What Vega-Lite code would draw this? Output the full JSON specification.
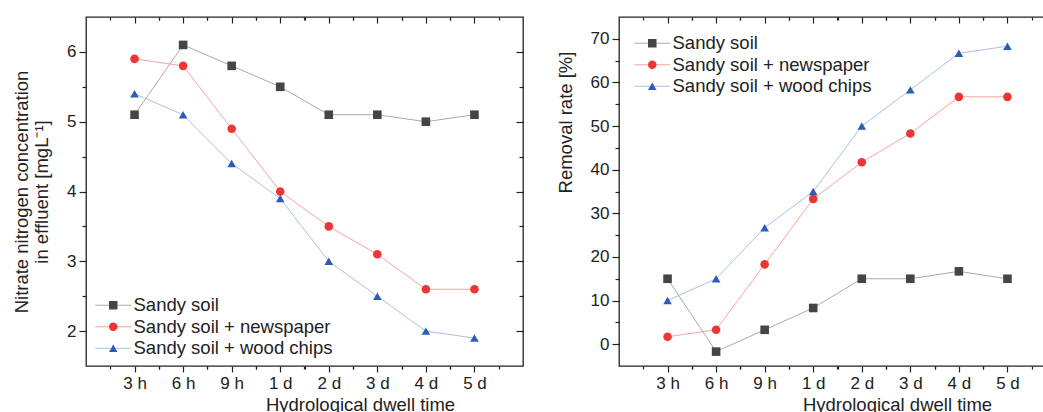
{
  "$schema": "https://vega.github.io/schema/vega-lite/v6.json",
  "padding": {"left": 11, "top": 15, "right": 0, "bottom": 0},
  "spacing": 30,
  "datasets": {
    "conc": [
      {"time": "3 h", "series": "Sandy soil", "value": 5.1},
      {"time": "6 h", "series": "Sandy soil", "value": 6.1},
      {"time": "9 h", "series": "Sandy soil", "value": 5.8},
      {"time": "1 d", "series": "Sandy soil", "value": 5.5},
      {"time": "2 d", "series": "Sandy soil", "value": 5.1},
      {"time": "3 d", "series": "Sandy soil", "value": 5.1},
      {"time": "4 d", "series": "Sandy soil", "value": 5.0},
      {"time": "5 d", "series": "Sandy soil", "value": 5.1},
      {"time": "3 h", "series": "Sandy soil + newspaper", "value": 5.9},
      {"time": "6 h", "series": "Sandy soil + newspaper", "value": 5.8},
      {"time": "9 h", "series": "Sandy soil + newspaper", "value": 4.9},
      {"time": "1 d", "series": "Sandy soil + newspaper", "value": 4.0},
      {"time": "2 d", "series": "Sandy soil + newspaper", "value": 3.5},
      {"time": "3 d", "series": "Sandy soil + newspaper", "value": 3.1},
      {"time": "4 d", "series": "Sandy soil + newspaper", "value": 2.6},
      {"time": "5 d", "series": "Sandy soil + newspaper", "value": 2.6},
      {"time": "3 h", "series": "Sandy soil + wood chips", "value": 5.4},
      {"time": "6 h", "series": "Sandy soil + wood chips", "value": 5.1},
      {"time": "9 h", "series": "Sandy soil + wood chips", "value": 4.4},
      {"time": "1 d", "series": "Sandy soil + wood chips", "value": 3.9},
      {"time": "2 d", "series": "Sandy soil + wood chips", "value": 3.0},
      {"time": "3 d", "series": "Sandy soil + wood chips", "value": 2.5},
      {"time": "4 d", "series": "Sandy soil + wood chips", "value": 2.0},
      {"time": "5 d", "series": "Sandy soil + wood chips", "value": 1.9}
    ],
    "removal": [
      {"time": "3 h", "series": "Sandy soil", "value": 15.0},
      {"time": "6 h", "series": "Sandy soil", "value": -1.7},
      {"time": "9 h", "series": "Sandy soil", "value": 3.3},
      {"time": "1 d", "series": "Sandy soil", "value": 8.3},
      {"time": "2 d", "series": "Sandy soil", "value": 15.0},
      {"time": "3 d", "series": "Sandy soil", "value": 15.0},
      {"time": "4 d", "series": "Sandy soil", "value": 16.7},
      {"time": "5 d", "series": "Sandy soil", "value": 15.0},
      {"time": "3 h", "series": "Sandy soil + newspaper", "value": 1.7},
      {"time": "6 h", "series": "Sandy soil + newspaper", "value": 3.3},
      {"time": "9 h", "series": "Sandy soil + newspaper", "value": 18.3},
      {"time": "1 d", "series": "Sandy soil + newspaper", "value": 33.3},
      {"time": "2 d", "series": "Sandy soil + newspaper", "value": 41.7},
      {"time": "3 d", "series": "Sandy soil + newspaper", "value": 48.3},
      {"time": "4 d", "series": "Sandy soil + newspaper", "value": 56.7},
      {"time": "5 d", "series": "Sandy soil + newspaper", "value": 56.7},
      {"time": "3 h", "series": "Sandy soil + wood chips", "value": 10.0},
      {"time": "6 h", "series": "Sandy soil + wood chips", "value": 15.0},
      {"time": "9 h", "series": "Sandy soil + wood chips", "value": 26.7},
      {"time": "1 d", "series": "Sandy soil + wood chips", "value": 35.0},
      {"time": "2 d", "series": "Sandy soil + wood chips", "value": 50.0},
      {"time": "3 d", "series": "Sandy soil + wood chips", "value": 58.3},
      {"time": "4 d", "series": "Sandy soil + wood chips", "value": 66.7},
      {"time": "5 d", "series": "Sandy soil + wood chips", "value": 68.3}
    ]
  },
  "hconcat": [
    {
      "width": 437,
      "height": 349,
      "data": {"name": "conc"},
      "resolve": {"axis": {"x": "independent", "y": "independent"}},
      "layer": [
        {
          "mark": {"type": "line", "strokeWidth": 1},
          "encoding": {
            "x": {"field": "time", "type": "ordinal",
              "scale": {"type": "point", "padding": 1, "domain": ["3 h", "6 h", "9 h", "1 d", "2 d", "3 d", "4 d", "5 d"]},
              "axis": {"orient": "bottom", "title": "Hydrological dwell time", "labelAngle": 0, "tickSize": 6, "labelPadding": 3, "titlePadding": 4, "titleX": 274}},
            "y": {"field": "value", "type": "quantitative",
              "scale": {"domain": [1.5, 6.5], "nice": false, "zero": false},
              "axis": {"orient": "left", "title": ["Nitrate nitrogen concentration", "in effluent [mgL⁻¹]"],
                "values": [2, 2.5, 3, 3.5, 4, 4.5, 5, 5.5, 6], "format": ".0f",
                "labelExpr": "datum.value % 1 === 0 ? datum.label : ''",
                "tickSize": {"condition": {"test": "datum.value % 1 !== 0", "value": 4}, "value": 7},
                "labelPadding": 3, "titlePadding": 15}},
            "stroke": {"field": "series", "type": "nominal",
              "scale": {"domain": ["Sandy soil", "Sandy soil + newspaper", "Sandy soil + wood chips"], "range": ["#aaaaaa", "#f4a3a3", "#a9c0e6"]},
              "legend": {"orient": "none", "legendX": 18, "legendY": 279, "title": null,
                "symbolType": "M-4,0L-0.6,0M0.6,0L4,0", "symbolSize": 81, "symbolStrokeWidth": 1,
                "labelOffset": 11, "labelFontSize": 18.5, "labelLimit": 400, "rowPadding": 2.5}}
          }
        },
        {
          "mark": {"type": "point", "filled": true, "size": 74, "opacity": 1},
          "encoding": {
            "x": {"field": "time", "type": "ordinal",
              "scale": {"type": "point", "padding": 1, "domain": ["3 h", "6 h", "9 h", "1 d", "2 d", "3 d", "4 d", "5 d"]},
              "axis": {"orient": "top", "labels": false, "title": null, "tickSize": -6}},
            "y": {"field": "value", "type": "quantitative",
              "axis": {"orient": "right", "labels": false, "title": null,
                "values": [2, 2.5, 3, 3.5, 4, 4.5, 5, 5.5, 6],
                "tickSize": {"condition": {"test": "datum.value % 1 !== 0", "value": -4}, "value": -7}}},
            "fill": {"field": "series", "type": "nominal",
              "scale": {"range": ["#454545", "#ee3535", "#2c5cb8"]},
              "legend": {"orient": "none", "legendX": 18, "legendY": 279, "title": null, "symbolSize": 72, "symbolStrokeWidth": 0,
                "labelOpacity": 0, "labelOffset": 11, "labelFontSize": 18.5, "labelLimit": 400, "rowPadding": 2.5}},
            "shape": {"field": "series", "type": "nominal",
              "scale": {"range": ["square", "circle", "triangle-up"]},
              "legend": {"orient": "none", "legendX": 18, "legendY": 279, "title": null, "symbolSize": 72, "symbolStrokeWidth": 0,
                "labelOpacity": 0, "labelOffset": 11, "labelFontSize": 18.5, "labelLimit": 400, "rowPadding": 2.5}}
          }
        },
        {
          "mark": {"type": "point", "opacity": 0},
          "encoding": {
            "x": {"field": "time", "type": "ordinal",
              "scale": {"type": "point", "padding": 1, "domain": ["3 h", "6 h", "9 h", "1 d", "2 d", "3 d", "4 d", "5 d"]},
              "axis": {"orient": "bottom", "labels": false, "title": null, "tickSize": 3, "tickOffset": 24.28}},
            "y": {"field": "value", "type": "quantitative", "axis": null}
          }
        },
        {
          "mark": {"type": "point", "opacity": 0},
          "encoding": {
            "x": {"field": "time", "type": "ordinal",
              "scale": {"type": "point", "padding": 1, "domain": ["3 h", "6 h", "9 h", "1 d", "2 d", "3 d", "4 d", "5 d"]},
              "axis": {"orient": "bottom", "labels": false, "title": null, "tickSize": 3, "tickOffset": -24.28}},
            "y": {"field": "value", "type": "quantitative", "axis": null}
          }
        },
        {
          "mark": {"type": "point", "opacity": 0},
          "encoding": {
            "x": {"field": "time", "type": "ordinal",
              "scale": {"type": "point", "padding": 1, "domain": ["3 h", "6 h", "9 h", "1 d", "2 d", "3 d", "4 d", "5 d"]},
              "axis": {"orient": "top", "labels": false, "title": null, "tickSize": -3, "tickOffset": 24.28}},
            "y": {"field": "value", "type": "quantitative", "axis": null}
          }
        },
        {
          "mark": {"type": "point", "opacity": 0},
          "encoding": {
            "x": {"field": "time", "type": "ordinal",
              "scale": {"type": "point", "padding": 1, "domain": ["3 h", "6 h", "9 h", "1 d", "2 d", "3 d", "4 d", "5 d"]},
              "axis": {"orient": "top", "labels": false, "title": null, "tickSize": -3, "tickOffset": -24.28}},
            "y": {"field": "value", "type": "quantitative", "axis": null}
          }
        }
      ]
    },
    {
      "width": 437,
      "height": 349,
      "data": {"name": "removal"},
      "resolve": {"axis": {"x": "independent", "y": "independent"}},
      "layer": [
        {
          "mark": {"type": "line", "strokeWidth": 1},
          "encoding": {
            "x": {"field": "time", "type": "ordinal",
              "scale": {"type": "point", "padding": 1, "domain": ["3 h", "6 h", "9 h", "1 d", "2 d", "3 d", "4 d", "5 d"]},
              "axis": {"orient": "bottom", "title": "Hydrological dwell time", "labelAngle": 0, "tickSize": 6, "labelPadding": 3, "titlePadding": 4, "titleX": 278}},
            "y": {"field": "value", "type": "quantitative",
              "scale": {"domain": [-5, 75], "nice": false, "zero": false},
              "axis": {"orient": "left", "title": "Removal rate [%]", "titleY": 105,
                "values": [0, 5, 10, 15, 20, 25, 30, 35, 40, 45, 50, 55, 60, 65, 70],
                "labelExpr": "datum.value % 10 === 0 ? datum.label : ''",
                "tickSize": {"condition": {"test": "datum.value % 10 !== 0", "value": 4}, "value": 7},
                "labelPadding": 3, "titlePadding": 15}},
            "stroke": {"field": "series", "type": "nominal",
              "scale": {"domain": ["Sandy soil", "Sandy soil + newspaper", "Sandy soil + wood chips"], "range": ["#aaaaaa", "#f4a3a3", "#a9c0e6"]},
              "legend": {"orient": "none", "legendX": 24, "legendY": 17, "title": null,
                "symbolType": "M-4,0L-0.6,0M0.6,0L4,0", "symbolSize": 81, "symbolStrokeWidth": 1,
                "labelOffset": 11, "labelFontSize": 18.5, "labelLimit": 400, "rowPadding": 2.5}}
          }
        },
        {
          "mark": {"type": "point", "filled": true, "size": 74, "opacity": 1},
          "encoding": {
            "x": {"field": "time", "type": "ordinal",
              "scale": {"type": "point", "padding": 1, "domain": ["3 h", "6 h", "9 h", "1 d", "2 d", "3 d", "4 d", "5 d"]},
              "axis": {"orient": "top", "labels": false, "title": null, "tickSize": -6}},
            "y": {"field": "value", "type": "quantitative",
              "axis": {"orient": "right", "labels": false, "title": null,
                "values": [0, 5, 10, 15, 20, 25, 30, 35, 40, 45, 50, 55, 60, 65, 70],
                "tickSize": {"condition": {"test": "datum.value % 10 !== 0", "value": -4}, "value": -7}}},
            "fill": {"field": "series", "type": "nominal",
              "scale": {"range": ["#454545", "#ee3535", "#2c5cb8"]},
              "legend": {"orient": "none", "legendX": 24, "legendY": 17, "title": null, "symbolSize": 72, "symbolStrokeWidth": 0,
                "labelOpacity": 0, "labelOffset": 11, "labelFontSize": 18.5, "labelLimit": 400, "rowPadding": 2.5}},
            "shape": {"field": "series", "type": "nominal",
              "scale": {"range": ["square", "circle", "triangle-up"]},
              "legend": {"orient": "none", "legendX": 24, "legendY": 17, "title": null, "symbolSize": 72, "symbolStrokeWidth": 0,
                "labelOpacity": 0, "labelOffset": 11, "labelFontSize": 18.5, "labelLimit": 400, "rowPadding": 2.5}}
          }
        },
        {
          "mark": {"type": "point", "opacity": 0},
          "encoding": {
            "x": {"field": "time", "type": "ordinal",
              "scale": {"type": "point", "padding": 1, "domain": ["3 h", "6 h", "9 h", "1 d", "2 d", "3 d", "4 d", "5 d"]},
              "axis": {"orient": "bottom", "labels": false, "title": null, "tickSize": 3, "tickOffset": 24.28}},
            "y": {"field": "value", "type": "quantitative", "axis": null}
          }
        },
        {
          "mark": {"type": "point", "opacity": 0},
          "encoding": {
            "x": {"field": "time", "type": "ordinal",
              "scale": {"type": "point", "padding": 1, "domain": ["3 h", "6 h", "9 h", "1 d", "2 d", "3 d", "4 d", "5 d"]},
              "axis": {"orient": "bottom", "labels": false, "title": null, "tickSize": 3, "tickOffset": -24.28}},
            "y": {"field": "value", "type": "quantitative", "axis": null}
          }
        },
        {
          "mark": {"type": "point", "opacity": 0},
          "encoding": {
            "x": {"field": "time", "type": "ordinal",
              "scale": {"type": "point", "padding": 1, "domain": ["3 h", "6 h", "9 h", "1 d", "2 d", "3 d", "4 d", "5 d"]},
              "axis": {"orient": "top", "labels": false, "title": null, "tickSize": -3, "tickOffset": 24.28}},
            "y": {"field": "value", "type": "quantitative", "axis": null}
          }
        },
        {
          "mark": {"type": "point", "opacity": 0},
          "encoding": {
            "x": {"field": "time", "type": "ordinal",
              "scale": {"type": "point", "padding": 1, "domain": ["3 h", "6 h", "9 h", "1 d", "2 d", "3 d", "4 d", "5 d"]},
              "axis": {"orient": "top", "labels": false, "title": null, "tickSize": -3, "tickOffset": -24.28}},
            "y": {"field": "value", "type": "quantitative", "axis": null}
          }
        }
      ]
    }
  ],
  "resolve": {
    "scale": {"stroke": "independent", "fill": "independent", "shape": "independent"},
    "legend": {"stroke": "independent", "fill": "independent", "shape": "independent"}
  },
  "config": {
    "font": "Liberation Sans",
    "background": "white",
    "view": {"stroke": "#222222", "strokeWidth": 1.3},
    "axis": {
      "grid": false, "domain": false,
      "labelFont": "Liberation Sans", "labelFontSize": 17, "labelColor": "#222222",
      "titleFont": "Liberation Sans", "titleFontSize": 18.5, "titleFontWeight": "normal", "titleColor": "#222222",
      "titleLineHeight": 20,
      "tickColor": "#222222", "tickWidth": 1.2
    },
    "legend": {
      "labelFont": "Liberation Sans", "labelColor": "#222222", "padding": 0
    }
  }
}
